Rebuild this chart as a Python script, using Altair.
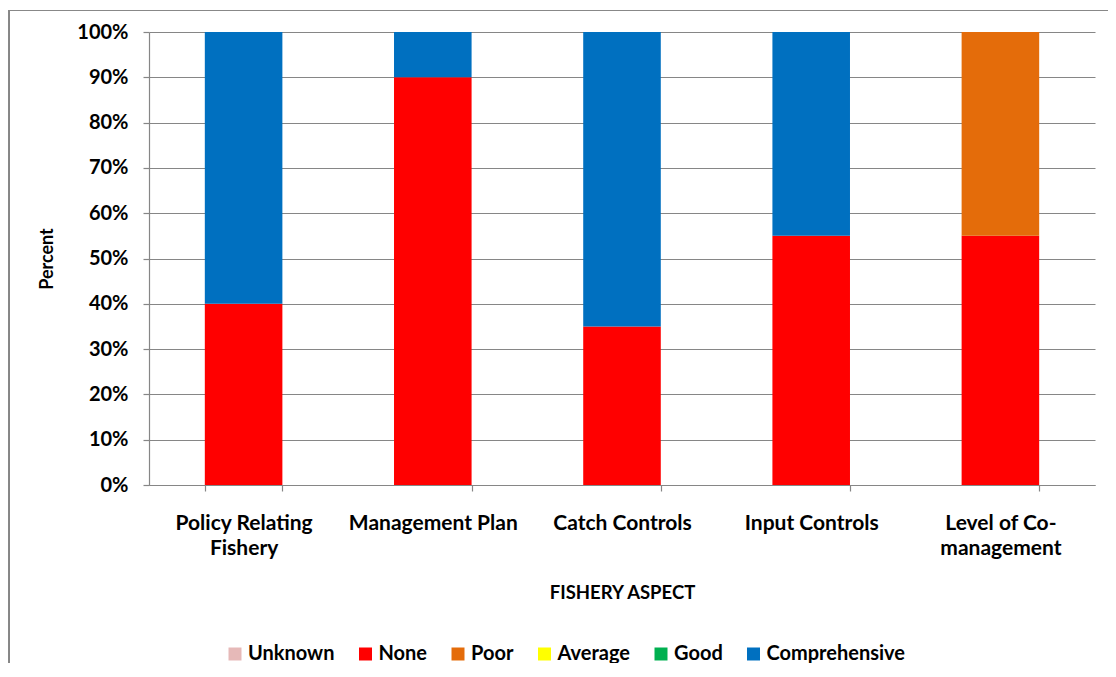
import altair as alt
import pandas as pd

categories = ["Policy Relating Fishery", "Management Plan", "Catch Controls",
              "Input Controls", "Level of Co-management"]
series = ["Unknown", "None", "Poor", "Average", "Good", "Comprehensive"]
colors = ["#E6B9B8", "#FF0000", "#E46C0A", "#FFFF00", "#00B050", "#0070C0"]

unknown = [0, 0, 0, 0, 0]
none = [40, 90, 35, 55, 55]
poor = [0, 0, 0, 0, 45]
average = [0, 0, 0, 0, 0]
good = [0, 0, 0, 0, 0]
comprehensive = [60, 10, 65, 45, 0]

values_by_series = [unknown, none, poor, average, good, comprehensive]
rows = []
for si, (s, vals) in enumerate(zip(series, values_by_series)):
    for c, v in zip(categories, vals):
        rows.append({"aspect": c, "rating": s, "order": si, "value": v / 100})
df = pd.DataFrame(rows)

FONT = "Lato"
W, H = 946, 453
PAD_L, PAD_T, PAD_R, PAD_B = 141, 24, 13, 178

label_expr = ("datum.label == 'Policy Relating Fishery' ? ['Policy Relating', 'Fishery'] : "
              "datum.label == 'Level of Co-management' ? ['Level of Co-', 'management'] : datum.label")

bars = alt.Chart(df).mark_bar().encode(
    x=alt.X("aspect:N", sort=categories,
            scale=alt.Scale(paddingInner=0.59, paddingOuter=0.295),
            axis=alt.Axis(title="FISHERY ASPECT", labelAngle=0, labelExpr=label_expr,
                          tickBand="extent", grid=False, labelPadding=21,
                          labelFontSize=21, titleFontSize=18.5,
                          labelLineHeight=25, titlePadding=25)),
    y=alt.Y("value:Q", stack="zero", scale=alt.Scale(domain=[0, 1]),
            axis=alt.Axis(title="Percent", format=".0%",
                          values=[i / 10 for i in range(11)],
                          labelPadding=15, titlePadding=20)),
    color=alt.Color("rating:N", scale=alt.Scale(domain=series, range=colors),
                    legend=alt.Legend(title=None, orient="none", direction="horizontal",
                                      legendX=76, legendY=612, symbolType="square",
                                      symbolSize=169, labelOffset=3, columnPadding=20.5,
                                      symbolStrokeWidth=0)),
    order=alt.Order("order:Q", sort="ascending"),
)

frame = alt.Chart(df).mark_rect(fill=None, stroke="#888888", strokeWidth=1.2).encode(
    x=alt.value(-140.5), x2=alt.value(W + PAD_R + 40),
    y=alt.value(-21.5), y2=alt.value(H + PAD_B + 60),
)

chart = alt.layer(frame, bars).properties(
    width=W, height=H,
    autosize=alt.AutoSizeParams(type="none"),
    padding={"left": PAD_L, "top": PAD_T, "right": PAD_R, "bottom": PAD_B},
).configure_view(stroke=None).configure_axis(
    labelFont=FONT, titleFont=FONT, labelFontWeight="bold", titleFontWeight="bold",
    labelFontSize=20, titleFontSize=18, labelColor="#000000", titleColor="#000000",
    domainColor="#868686", tickColor="#868686", gridColor="#868686",
    domainWidth=1.2, tickWidth=1.2, gridWidth=1.2, tickSize=6,
).configure_legend(
    labelFont=FONT, labelFontSize=20, labelFontWeight="bold", labelColor="#000000",
)

chart.save("out.html", embed_options={"renderer": "svg", "actions": False})
